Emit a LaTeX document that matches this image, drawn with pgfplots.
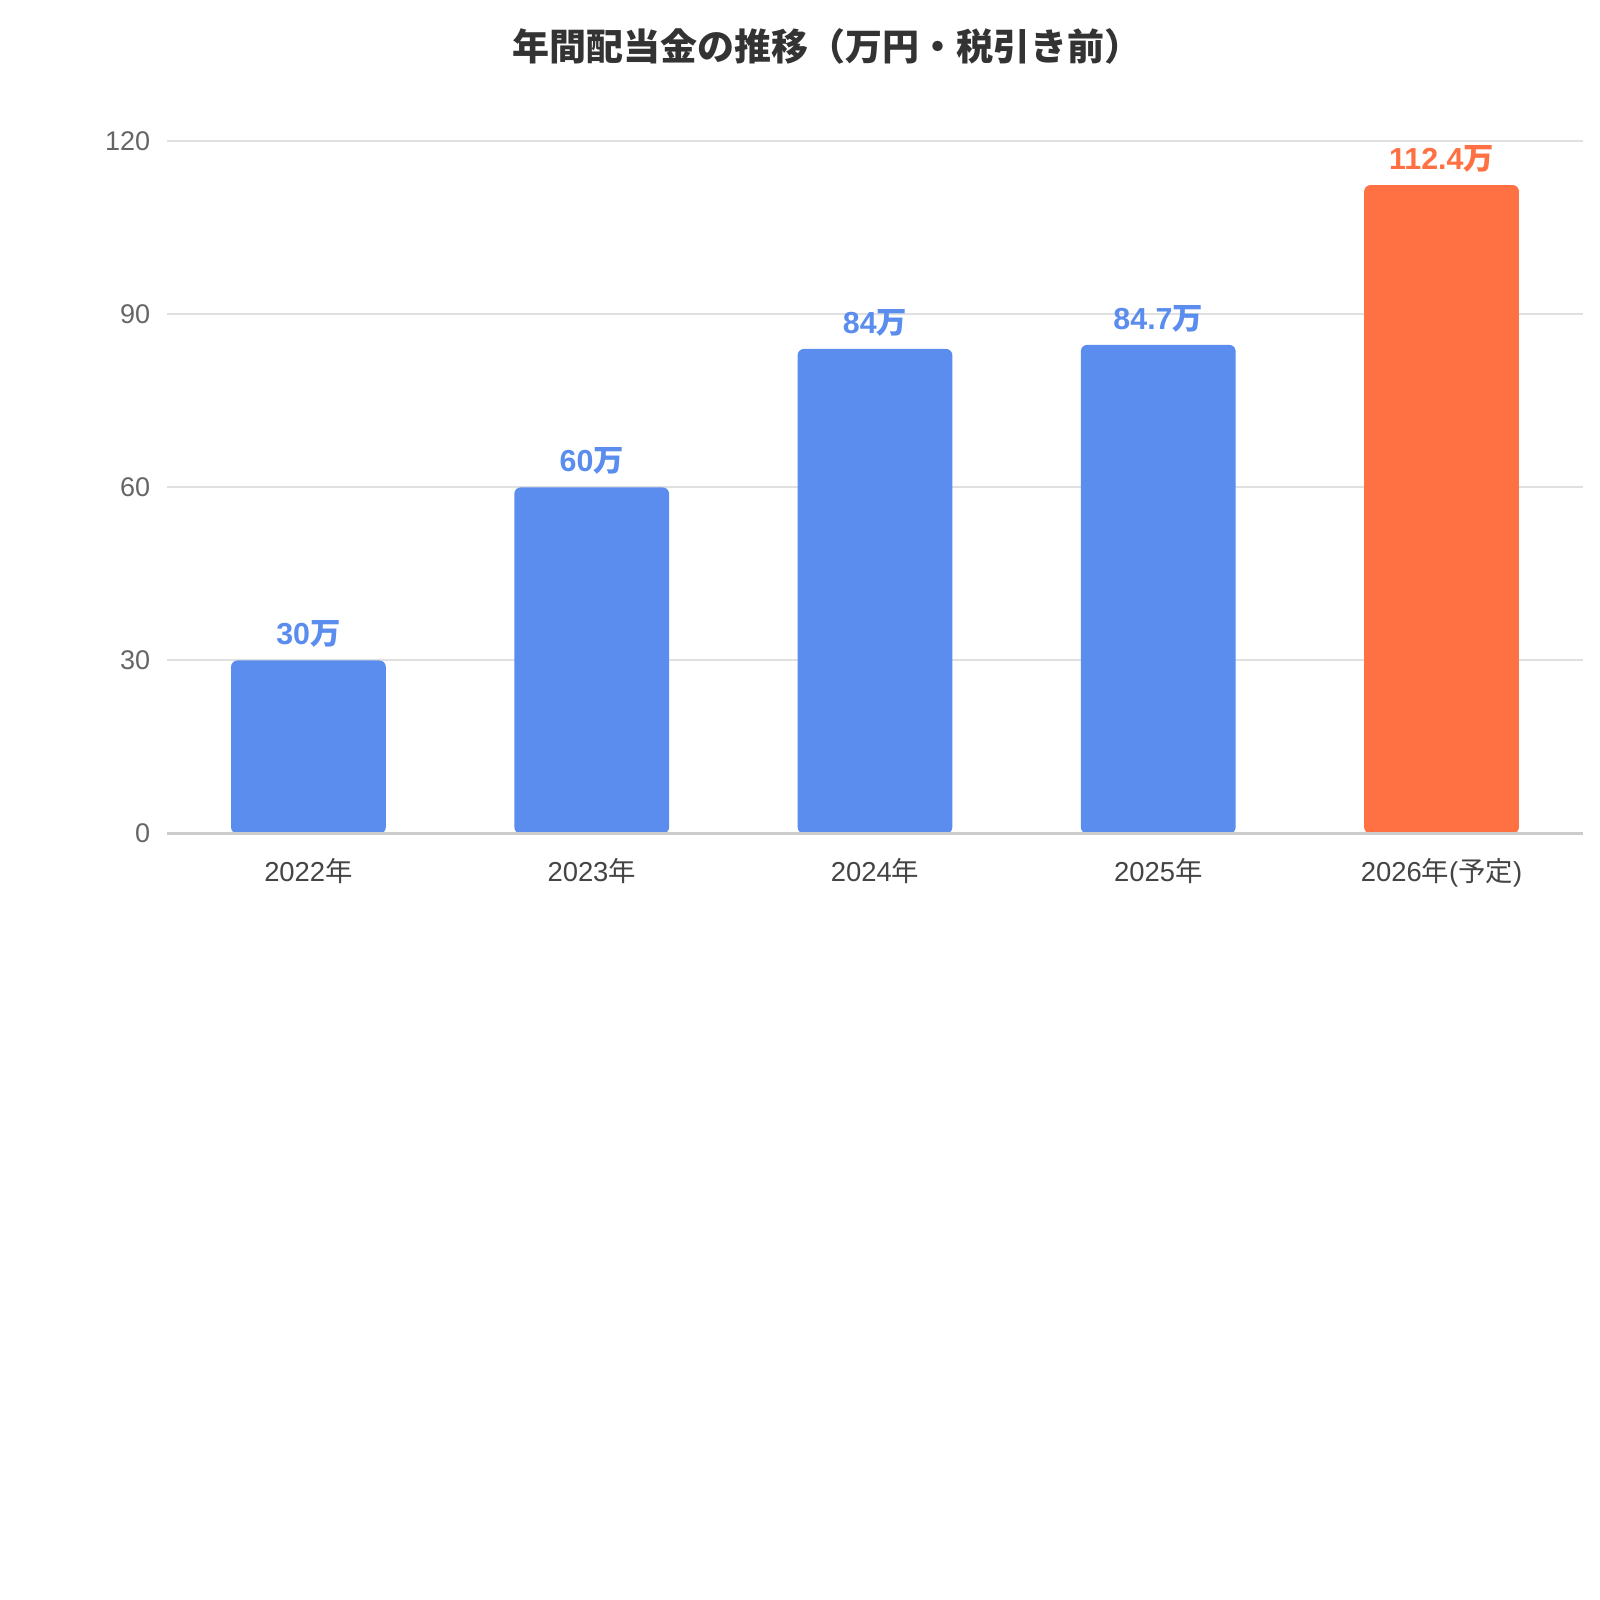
\documentclass[border=0pt]{standalone}
\usepackage{fontspec}
\setmainfont{Liberation Sans}
\newfontfamily\jp{Noto Sans CJK JP}
\usepackage{pgfplots}
\pgfplotsset{compat=1.18}

\definecolor{barblue}{HTML}{5B8DEE}
\definecolor{barorange}{HTML}{FF7043}
\definecolor{gridgray}{HTML}{E0E0E0}
\definecolor{basegray}{HTML}{CCCCCC}
\definecolor{ticklab}{HTML}{666666}
\definecolor{xlab}{HTML}{444444}
\definecolor{titlegray}{HTML}{333333}

\begin{document}
\begin{tikzpicture}
  % page is 400pt x 400pt -> 4 px per pt
  \useasboundingbox[fill=white] (0,0) rectangle (400pt,400pt);
  \node[font=\jp\bfseries\fontsize{9.25}{10}\selectfont, text=titlegray]
    at (206.8pt,388.5pt) {年間配当金の推移（万円・税引き前）};
  \begin{axis}[
    at={(41.7pt,191.6pt)}, anchor=south west,
    scale only axis,
    width=354.1pt, height=173.1pt,
    xmin=-0.5, xmax=4.5,
    ymin=0, ymax=120,
    ytick={0,30,60,90,120},
    xtick={0,1,2,3,4},
    xticklabels={2022{\jp 年}, 2023{\jp 年}, 2024{\jp 年}, 2025{\jp 年}, 2026{\jp 年}({\jp 予定})},
    axis line style={draw=none},
    major tick length=0pt,
    ymajorgrids,
    grid style={gridgray, line width=0.5pt},
    /pgf/number format/assume math mode=true,
    yticklabel style={font=\fontsize{6.75}{7}\selectfont, text=ticklab, xshift=-0.6pt},
    xticklabel style={font=\fontsize{6.85}{7}\selectfont, text=xlab, yshift=-2.6pt},
    ybar, bar width=38.7pt, bar shift=0pt,
    point meta=y,
    nodes near coords={\pgfmathprintnumber{\pgfplotspointmeta}{\jp 万}},
    every node near coord/.append style={font=\bfseries\fontsize{7.6}{8}\selectfont, anchor=south, yshift=-0.3pt},
    clip=false,
  ]
    \addplot[fill=barblue, draw=none, rounded corners=1.6pt,
      every node near coord/.append style={text=barblue}]
      coordinates {(0,30) (1,60) (2,84) (3,84.7)};
    \addplot[fill=barorange, draw=none, rounded corners=1.6pt,
      every node near coord/.append style={text=barorange}]
      coordinates {(4,112.4)};
    \draw[basegray, line width=0.75pt] (rel axis cs:0,0) -- (rel axis cs:1,0);
  \end{axis}
\end{tikzpicture}
\end{document}
